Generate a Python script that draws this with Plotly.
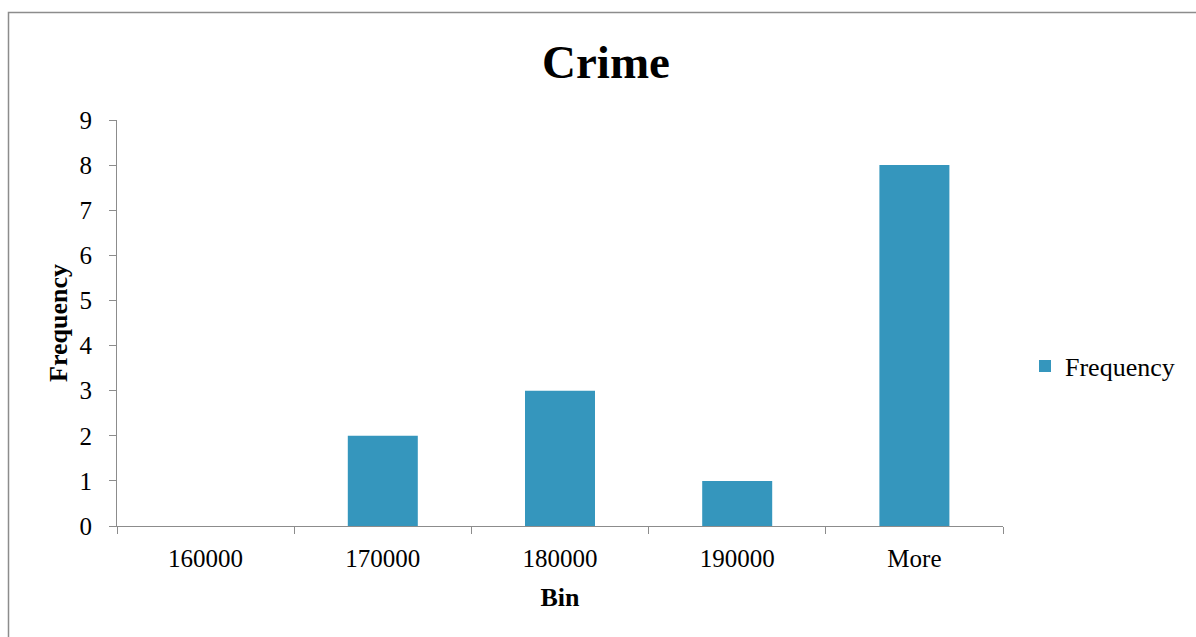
import plotly.graph_objects as go

bins = ["160000", "170000", "180000", "190000", "More"]
frequency = [0, 2, 3, 1, 8]
y_ticks = list(range(0, 10))

W, H = 1196, 637
L, R, T, B = 117, 193, 120, 111
pw, ph = W - L - R, H - T - B

bar_color = "#3596BD"
axis_color = "#8C8C8C"
serif = "Liberation Serif, Times New Roman, serif"

fig = go.Figure()
fig.add_trace(go.Bar(
    x=bins, y=frequency, name="Frequency",
    marker=dict(color=bar_color, line=dict(width=0)),
))

fig.update_layout(
    width=W, height=H,
    margin=dict(l=L, r=R, t=T, b=B),
    paper_bgcolor="white", plot_bgcolor="white",
    font=dict(family=serif, size=25, color="black"),
    bargap=0.605,
    title=dict(text="<b>Crime</b>", font=dict(size=47, family=serif),
               x=606 / W, xref="container", xanchor="center",
               y=1 - 62 / H, yref="container", yanchor="middle"),
    showlegend=True,
    legend=dict(x=(1025 - L) / pw, y=(526 - 366) / ph, xanchor="left", yanchor="middle",
                font=dict(size=26, family=serif), bgcolor="rgba(0,0,0,0)",
                itemwidth=30),
    xaxis=dict(
        type="category", tickson="boundaries", ticks="outside", ticklen=7,
        tickcolor=axis_color, showline=True, linecolor=axis_color, linewidth=1,
        showgrid=False, tickfont=dict(size=25), ticklabelstandoff=10,
        title=dict(text="<b>Bin</b>", font=dict(size=26), standoff=16),
    ),
    yaxis=dict(
        range=[0, 9], tickvals=y_ticks, ticks="outside", ticklen=7,
        tickcolor=axis_color, showline=True, linecolor=axis_color, linewidth=1,
        showgrid=False, zeroline=False, tickfont=dict(size=25), ticklabelstandoff=12,
        title=dict(text="<b>Frequency</b>", font=dict(size=26), standoff=4),
    ),
)

# chart-area frame
fig.add_shape(type="rect", xref="paper", yref="paper",
              x0=(8.5 - L) / pw, x1=(1300 - L) / pw,
              y0=(526 - 800) / ph, y1=(526 - 12.5) / ph,
              line=dict(color=axis_color, width=1.5), fillcolor="rgba(0,0,0,0)",
              layer="below")

fig.write_html("out.html")
